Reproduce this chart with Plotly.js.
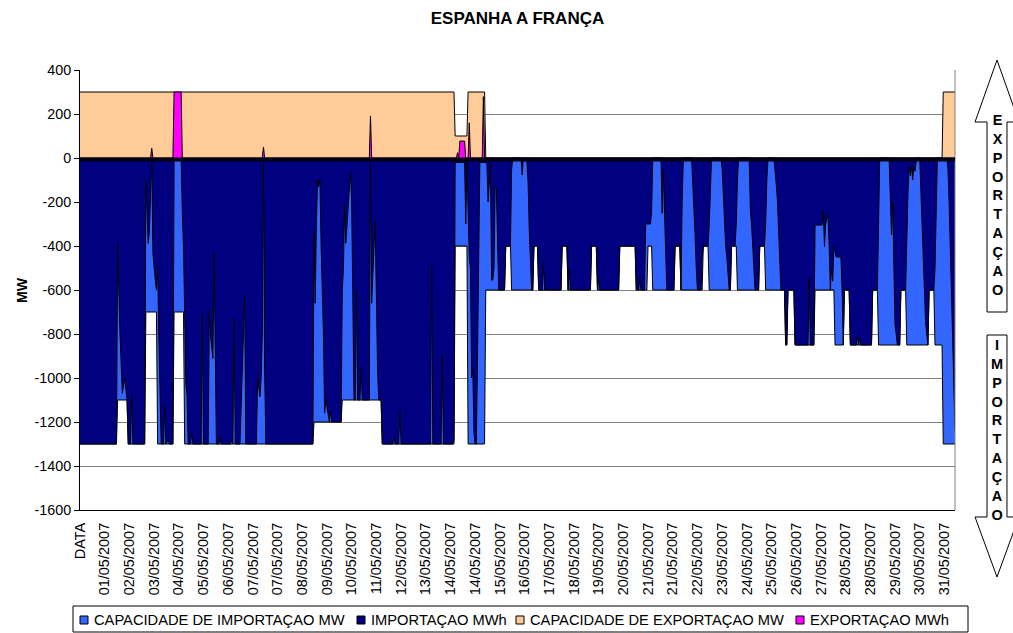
<!DOCTYPE html>
<html><head><meta charset="utf-8">
<script src="https://cdn.plot.ly/plotly-3.0.1.min.js"></script>
<style>body{margin:0;background:#fff}#chart{width:1013px;height:633px}</style>
</head><body><div id="chart"></div>
<script>
// hour index (0 = "DATA" row, then hourly for May 2007) and values in MW
const capImportacaoMW = [[0,-1300],[31,-1300],[32,-1100],[40,-1100],[41,-1300],[55,-1300],[56,-700],[65,-700],[66,-1300],[79,-1300],[80,-700],[88,-700],[89,-1300],[198,-1300],[199,-1200],[222,-1200],[223,-1100],[256,-1100],[257,-1300],[318,-1300],[319,-400],[329,-400],[330,-1300],[344,-1300],[345,-600],[361,-600],[362,-400],[366,-400],[367,-600],[385,-600],[386,-400],[389,-400],[390,-600],[409,-600],[410,-400],[414,-400],[415,-600],[434,-600],[435,-400],[439,-400],[440,-600],[458,-600],[459,-400],[472,-400],[473,-600],[482,-600],[483,-400],[486,-400],[487,-600],[505,-600],[506,-400],[510,-400],[511,-600],[529,-600],[530,-400],[534,-400],[535,-600],[553,-600],[554,-400],[558,-400],[559,-600],[577,-600],[578,-400],[582,-400],[583,-600],[599,-600],[600,-850],[601,-850],[602,-600],[607,-600],[608,-850],[624,-850],[625,-600],[641,-600],[642,-850],[649,-850],[650,-600],[654,-600],[655,-850],[673,-850],[674,-600],[678,-600],[679,-850],[697,-850],[698,-600],[702,-600],[703,-850],[721,-850],[722,-600],[726,-600],[727,-850],[733,-850],[734,-1300],[744,-1300]];

const importacaoMWh = [[0,-1300],[31,-1300],[32,-390],[34,-800],[36,-1070],[38,-1000],[40,-1100],[41,-1300],[43,-1300],[44,-1077],[45,-1300],[55,-1300],[56,-108],[57,-220],[58,-388],[59,-330],[60,-200],[61,0],[62,-433],[63,-520],[64,-555],[65,-600],[66,-500],[67,-800],[68,-1150],[69,-1300],[71,-1300],[72,-1130],[73,-1300],[75,-1280],[76,-1300],[79,-1300],[80,0],[86,0],[87,-250],[88,-400],[89,-700],[90,-1030],[91,-1080],[92,-1300],[94,-1300],[95,-1250],[96,-1300],[103,-1300],[104,-706],[105,-1300],[109,-1300],[110,-694],[111,-812],[112,-870],[113,-911],[114,-433],[115,-1000],[116,-1300],[118,-1300],[119,-1270],[120,-1300],[128,-1300],[129,-1280],[130,-1300],[131,-729],[132,-1300],[136,-1300],[137,-1150],[138,-950],[139,-780],[140,-627],[141,-1300],[150,-1300],[151,-1000],[152,-1050],[153,-1085],[154,-1000],[155,-800],[156,0],[157,-956],[158,-1300],[198,-1300],[199,-335],[200,-660],[201,-300],[202,-100],[203,-130],[204,-100],[205,-400],[206,-600],[207,-800],[208,-1160],[209,-1100],[210,-1130],[211,-1180],[212,-1200],[213,-1150],[214,-1200],[222,-1200],[223,-600],[224,-500],[225,-206],[226,-388],[227,-300],[228,-191],[229,-120],[230,-62],[231,-200],[232,-800],[233,-1100],[234,-1100],[235,-600],[236,-1100],[238,-1100],[239,-950],[240,-1100],[246,-1100],[247,0],[248,-660],[249,-500],[250,-400],[251,-290],[252,-660],[253,-964],[254,-1100],[256,-1100],[257,-1300],[266,-1300],[267,-1270],[268,-1300],[271,-1300],[272,-1145],[273,-1300],[298,-1300],[299,-486],[300,-1300],[307,-1300],[308,-895],[309,-1300],[317,-1300],[318,-1280],[319,-20],[327,-20],[328,-300],[329,-20],[330,-300],[331,-450],[332,-500],[333,-1000],[334,-960],[335,-1250],[336,-1300],[337,-1300],[338,-900],[339,-300],[340,-20],[345,-20],[346,-30],[347,-200],[348,-100],[349,-30],[350,-555],[351,-555],[352,-500],[353,-130],[354,-130],[355,-400],[356,-600],[361,-600],[362,-400],[366,-400],[367,-50],[368,0],[375,0],[376,-77],[377,0],[380,-20],[381,-110],[382,-327],[383,-500],[384,-600],[385,-600],[386,-400],[389,-400],[390,-600],[393,-600],[394,-480],[395,-600],[409,-600],[410,-400],[414,-400],[415,-600],[416,-500],[417,-600],[434,-600],[435,-400],[439,-400],[440,-600],[441,-550],[442,-600],[458,-600],[459,-400],[472,-400],[473,-600],[475,-600],[476,-550],[477,-600],[480,-600],[481,-300],[485,-300],[486,-250],[487,0],[494,0],[495,-252],[496,-50],[497,-250],[498,-400],[499,-600],[505,-600],[506,-400],[510,-400],[511,-600],[512,-200],[513,0],[520,0],[521,-100],[522,-200],[523,-350],[524,-500],[525,-600],[528,-600],[529,-450],[530,-400],[534,-400],[535,-305],[536,-150],[537,0],[545,0],[546,-50],[547,-160],[548,-300],[549,-400],[550,-450],[551,-550],[552,-600],[553,-600],[554,-400],[557,-400],[558,-300],[559,-100],[560,0],[569,0],[570,-236],[571,-300],[572,-400],[573,-540],[574,-600],[577,-600],[578,-400],[582,-400],[583,-300],[584,-100],[585,0],[590,0],[591,-50],[592,-120],[593,-191],[594,-327],[595,-450],[596,-600],[599,-600],[600,-850],[601,-850],[602,-600],[607,-600],[608,-850],[619,-850],[620,-547],[621,-850],[624,-850],[625,-305],[631,-305],[632,-236],[633,-403],[634,-300],[636,-259],[637,-400],[638,-600],[639,-500],[640,-560],[641,-403],[642,-430],[643,-450],[647,-450],[648,-600],[649,-850],[650,-600],[654,-600],[655,-850],[660,-850],[661,-810],[662,-850],[663,-820],[664,-850],[673,-850],[674,-600],[678,-600],[679,-300],[680,0],[688,0],[689,-200],[690,-350],[691,-200],[692,-500],[693,-760],[694,-800],[695,-850],[697,-850],[698,-600],[702,-600],[703,-300],[704,-160],[705,-40],[706,-80],[707,-40],[708,-100],[709,-40],[710,-60],[711,-20],[712,0],[714,0],[715,-150],[716,-300],[717,-450],[718,-650],[719,-750],[720,-800],[721,-850],[722,-600],[726,-600],[727,-500],[728,-200],[729,0],[737,0],[738,-50],[739,-200],[740,-400],[741,-600],[742,-900],[743,-1100],[744,-1240]];

const capExportacaoMW = [[0,300],[318,300],[319,100],[329,100],[330,300],[344,300],[345,0],[733,0],[734,300],[744,300]];

const exportacaoMWh = [[0,0],[60,0],[61,44],[62,0],[79,0],[80,300],[86,300],[87,0],[155,0],[156,50],[157,0],[246,0],[247,191],[248,0],[320,0],[321,24],[322,0],[323,77],[327,77],[328,0],[330,0],[331,160],[332,0],[342,0],[343,279],[344,0],[744,0]];

const seriesNames = ['CAPACIDADE DE IMPORTAÇAO MW','IMPORTAÇAO MWh','CAPACIDADE DE EXPORTAÇAO MW','EXPORTAÇAO MWh'];
const seriesColors = ['#3366FF','#000080','#FFCC99','#FF00FF'];

const xTickLabels = ['DATA','01/05/2007','02/05/2007','03/05/2007','04/05/2007','05/05/2007','06/05/2007','07/05/2007','07/05/2007','08/05/2007','09/05/2007','10/05/2007','11/05/2007','12/05/2007','13/05/2007','14/05/2007','14/05/2007','15/05/2007','16/05/2007','17/05/2007','18/05/2007','19/05/2007','20/05/2007','21/05/2007','21/05/2007','22/05/2007','23/05/2007','24/05/2007','25/05/2007','26/05/2007','27/05/2007','28/05/2007','28/05/2007','29/05/2007','30/05/2007','31/05/2007'];
const labelEvery = 21; // one category label every 21 hourly rows
const yTickVals = [-1600,-1400,-1200,-1000,-800,-600,-400,-200,0,200,400];
const yTickLabels = ['-1600','-1400','-1200','-1000','-800','-600','-400','-200','0','200','400'];

const F = 'Arial, "Liberation Sans", sans-serif';
const xs = p => p.map(d => d[0]);
const ys = p => p.map(d => d[1]);
const data = [capImportacaoMW, importacaoMWh, capExportacaoMW, exportacaoMWh];

const traces = data.map((s, i) => ({
  x: xs(s), y: ys(s), type: 'scatter', mode: 'lines', fill: 'tozeroy', name: seriesNames[i],
  fillcolor: seriesColors[i], line: {color: '#000', width: 1}, showlegend: false, hoverinfo: 'skip'
}));

// decoration helpers (pixel -> paper)
const PX = px => (px - 80) / 875;
const PY = py => (510 - py) / 440;
const P = (px, py) => PX(px).toFixed(4) + ',' + PY(py).toFixed(4);
const poly = pts => 'M' + pts.map(p => P(p[0], p[1])).join('L') + 'Z';
const upArrow = poly([[997,60],[1019,122],[1007,122],[1007,312],[987,312],[987,122],[975,122]]);
const downArrow = poly([[987,335],[1007,335],[1007,517],[1019,517],[997,577],[975,517],[987,517]]);

const shapes = [
  {type:'path', xref:'paper', yref:'paper', path: upArrow, fillcolor:'#fff', line:{color:'#000', width:1}},
  {type:'path', xref:'paper', yref:'paper', path: downArrow, fillcolor:'#fff', line:{color:'#000', width:1}},
  {type:'line', xref:'paper', yref:'paper', x0:1, x1:1, y0:0, y1:1, line:{color:'#808080', width:1}},
  {type:'line', xref:'x', yref:'y', x0:0, x1:744, y0:-7, y1:-7, line:{color:'#000010', width:4}},
  // legend box
  {type:'rect', xref:'paper', yref:'paper', x0:PX(73), x1:PX(968), y0:PY(606), y1:PY(632), fillcolor:'#fff', line:{color:'#000', width:1}}
];

const annotations = [
  {text:'<b>MW</b>', xref:'paper', yref:'paper', x:PX(22), y:0.5, xanchor:'center', yanchor:'middle', showarrow:false, textangle:-90, font:{size:14, family:F}},
  {text:'<b>E<br>X<br>P<br>O<br>R<br>T<br>A<br>Ç<br>A<br>O</b>', xref:'paper', yref:'paper', x:PX(997), y:PY(205), xanchor:'center', yanchor:'middle', showarrow:false, font:{size:14.5, family:F}},
  {text:'<b>I<br>M<br>P<br>O<br>R<br>T<br>A<br>Ç<br>A<br>O</b>', xref:'paper', yref:'paper', x:PX(997), y:PY(430), xanchor:'center', yanchor:'middle', showarrow:false, font:{size:14.5, family:F}}
];

// legend entries (Excel-style square keys)
const legendKeyX = [80, 357, 516, 796];
seriesNames.forEach((n, i) => {
  const x0 = legendKeyX[i];
  shapes.push({type:'rect', xref:'paper', yref:'paper', x0:PX(x0), x1:PX(x0 + 8), y0:PY(624), y1:PY(616),
               fillcolor: seriesColors[i], line:{color:'#000', width:1}});
  annotations.push({text: n, xref:'paper', yref:'paper', x:PX(x0 + 12), y:PY(620), xanchor:'left', yanchor:'middle',
                    showarrow:false, font:{size:14.7, family:F}});
});

const layout = {
  width: 1013, height: 633,
  margin: {l:80, r:58, t:70, b:123, autoexpand:false},
  paper_bgcolor:'#fff', plot_bgcolor:'#fff',
  font: {family: F, size: 14, color: '#000'},
  showlegend: false,
  title: {text:'<b>ESPANHA A FRANÇA</b>', x:0.5, xref:'paper', xanchor:'center', y:1-18/633, yref:'container', yanchor:'middle', font:{size:17, family:F}},
  xaxis: {range:[0,744], tickmode:'array', tickvals: xTickLabels.map((_, k) => k * labelEvery), ticktext: xTickLabels,
          tickangle:-90, ticks:'', showgrid:false, zeroline:false, showline:true, linecolor:'#000', linewidth:1,
          tickfont:{size:14.5, family:F}, ticklabelstandoff:6, fixedrange:true},
  yaxis: {range:[-1600,400], tickmode:'array', tickvals:yTickVals, ticktext:yTickLabels, ticks:'outside', ticklen:5, tickcolor:'#000',
          showgrid:true, gridcolor:'#808080', gridwidth:1, zeroline:false, showline:true, linecolor:'#000', linewidth:1,
          tickfont:{size:14.3, family:F}, fixedrange:true},
  shapes, annotations
};

Plotly.newPlot('chart', traces, layout, {displayModeBar:false, staticPlot:true});
</script></body></html>
